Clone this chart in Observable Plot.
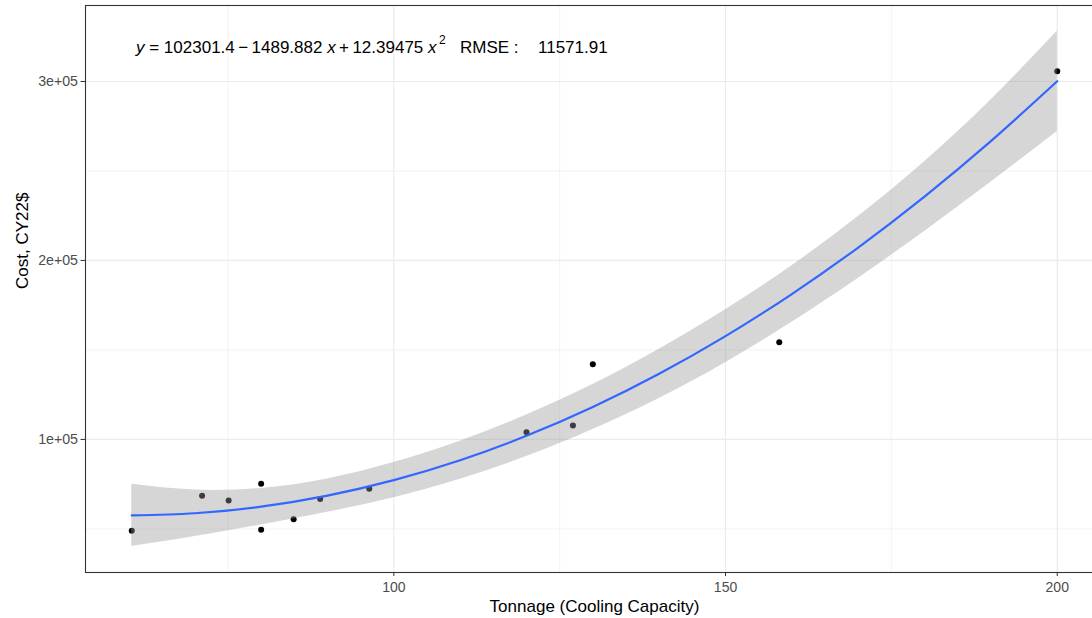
<!DOCTYPE html>
<html>
<head>
<meta charset="utf-8">
<script src="https://cdn.jsdelivr.net/npm/d3@7"></script>
<script src="https://cdn.jsdelivr.net/npm/@observablehq/plot@0.6"></script>
<style>
  html, body { margin: 0; padding: 0; background: #fff; }
  #wrap { width: 1092px; height: 618px; overflow: hidden; }
  #wrap svg { overflow: hidden; }
</style>
</head>
<body>
<div id="wrap"></div>
<script>
// Observed data points (Tonnage vs Cost)
const tonnage = [60.5, 71.1, 75.1, 80, 80, 84.9, 88.9, 96.3, 120, 127, 130, 158.1, 200];
const cost = [49000, 68550, 65900, 75250, 49550, 55470, 66650, 72460, 104080, 107820, 142070, 154360, 305750];

// Quadratic smooth with 95% confidence band
const bandX = [60.5, 70, 80, 90, 100, 110, 120, 130, 140, 150, 160, 170, 180, 190, 200];
const fitY = [57531, 58744, 62437, 68610, 77261, 88391, 102000, 118088, 136655, 157701, 181226, 207230, 235713, 266674, 300115];
const lowerY = [40131, 45744, 52237, 59310, 67461, 77791, 90400, 105488, 122855, 142901, 165426, 189930, 216213, 243674, 272115];
const upperY = [74931, 71744, 72637, 77910, 87061, 98991, 113600, 130688, 150455, 172501, 197026, 224530, 255213, 289674, 328115];

// Axes
const xTicks = [100, 150, 200];
const xMinor = [75, 125, 175];
const yTicks = [100000, 200000, 300000];
const yTickLabels = ["1e+05", "2e+05", "3e+05"];
const yMinor = [50000, 150000, 250000];
const xTitle = "Tonnage (Cooling Capacity)";
const yTitle = "Cost, CY22$";
const eqCoef = ["102301.4", "1489.882", "12.39475"];
const rmseLabel = "RMSE :";
const rmseValue = "11571.91";

const points = tonnage.map((t, i) => ({t, c: cost[i]}));
const band = bandX.map((x, i) => ({x, fit: fitY[i], lo: lowerY[i], hi: upperY[i]}));
const yLabelOf = new Map(yTicks.map((v, i) => [v, yTickLabels[i]]));

const font = "'Liberation Sans', Arial, sans-serif";

const chart = Plot.plot({
  width: 1092,
  height: 618,
  marginLeft: 85,
  marginRight: -11,
  marginTop: 5,
  marginBottom: 46,
  style: {fontFamily: font, background: "#fff"},
  x: {domain: [53.525, 206.975]},
  y: {domain: [25650, 342450]},
  marks: [
    Plot.gridX(xMinor, {stroke: "#ebebeb", strokeOpacity: 1, strokeWidth: 0.6}),
    Plot.gridY(yMinor, {stroke: "#ebebeb", strokeOpacity: 1, strokeWidth: 0.6}),
    Plot.gridX(xTicks, {stroke: "#ebebeb", strokeOpacity: 1, strokeWidth: 1.2}),
    Plot.gridY(yTicks, {stroke: "#ebebeb", strokeOpacity: 1, strokeWidth: 1.2}),
    Plot.dot(points, {x: "t", y: "c", r: 3, fill: "black", stroke: "none"}),
    Plot.areaY(band, {x: "x", y1: "lo", y2: "hi", fill: "#999999", fillOpacity: 0.4, curve: "natural"}),
    Plot.line(band, {x: "x", y: "fit", stroke: "#3366FF", strokeWidth: 2.2, curve: "natural"}),
    Plot.frame({stroke: "#333333", strokeWidth: 1.1}),
    Plot.axisX(xTicks, {tickSize: 4, tickFormat: () => "", color: "#333333", label: null}),
    Plot.axisX(xTicks, {tickSize: 4, tickPadding: 6, stroke: "none", color: "#4d4d4d", fontSize: 14, label: null}),
    Plot.axisY(yTicks, {tickSize: 4.5, tickFormat: () => "", color: "#333333", label: null}),
    Plot.axisY(yTicks, {tickSize: 4.5, tickPadding: 3, stroke: "none", color: "#4d4d4d", fontSize: 14.2, tickFormat: d => yLabelOf.get(d), label: null}),
    Plot.text([xTitle], {frameAnchor: "bottom", lineAnchor: "middle", dy: 34, text: d => d, fontSize: 17, fill: "black"}),
    Plot.text([yTitle], {frameAnchor: "left", lineAnchor: "middle", dx: -63, rotate: -90, text: d => d, fontSize: 17, fill: "black"})
  ]
});

document.getElementById("wrap").appendChild(chart);

// Equation annotation (plotmath-like, with italic variables and superscript)
const svg = d3.select(chart);
const eq = svg.append("g")
  .attr("font-family", font)
  .attr("font-size", 17)
  .attr("text-anchor", "start")
  .attr("fill", "black");
const t = eq.append("text").attr("x", 136).attr("y", 53);
t.append("tspan").attr("font-style", "italic").text("y");
t.append("tspan").text(" = " + eqCoef[0] + "\u2009\u2212\u2009" + eqCoef[1] + " ");
t.append("tspan").attr("font-style", "italic").text("x");
t.append("tspan").text("\u2009+\u2009" + eqCoef[2] + " ");
t.append("tspan").attr("font-style", "italic").text("x");
t.append("tspan").attr("dy", -9).attr("font-size", 12).text("\u20092");
eq.append("text").attr("x", 460).attr("y", 53).text(rmseLabel);
eq.append("text").attr("x", 538).attr("y", 53).text(rmseValue);
</script>
</body>
</html>
